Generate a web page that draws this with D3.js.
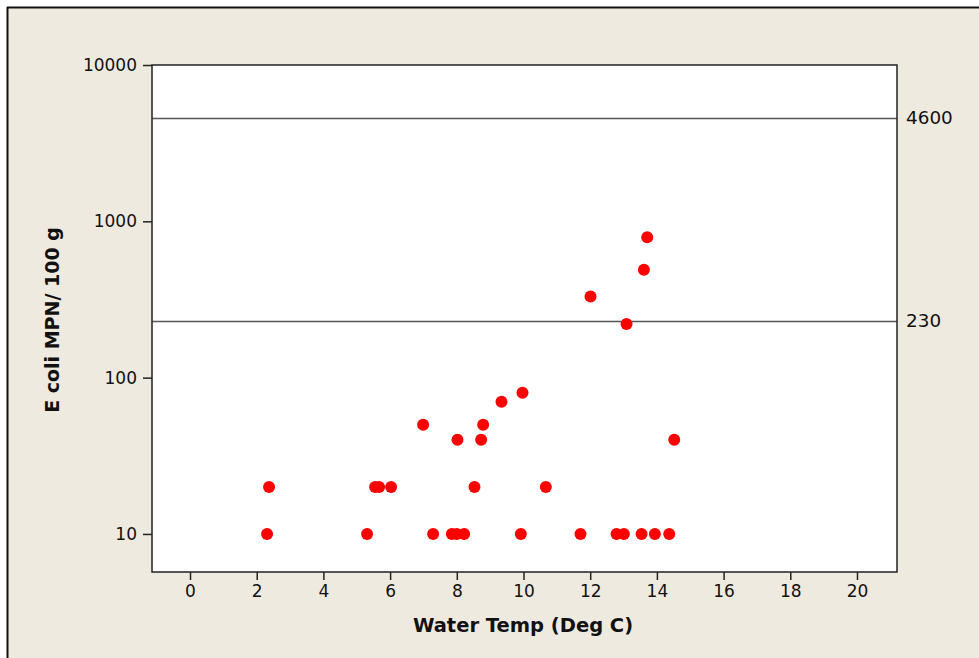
<!DOCTYPE html>
<html>
<head>
<meta charset="utf-8">
<script src="https://cdn.jsdelivr.net/npm/d3@7"></script>
<style>
  html, body { margin: 0; padding: 0; background: #ffffff; }
  svg { display: block; }
</style>
</head>
<body>
<svg id="chart" width="979" height="658"></svg>
<script>
// Water temperature (deg C) of each sample
const waterTemp = [
  2.31, 2.37, 5.31, 5.55, 5.67, 6.03, 6.99, 7.29,
  7.85, 8.0, 8.22, 8.02, 8.53, 8.73, 8.79, 9.34,
  9.92, 9.97, 10.67, 11.71, 12.01, 12.79, 13.01, 13.09,
  13.54, 13.61, 13.71, 13.94, 14.37, 14.52
];
// E. coli MPN per 100 g for each sample
const ecoli = [
  10, 20, 10, 20, 20, 20, 50, 10,
  10, 10, 10, 40, 20, 40, 50, 70,
  10, 80, 20, 10, 330, 10, 10, 220,
  10, 490, 790, 10, 10, 40
];
// Reference limits drawn as horizontal lines
const refLines = [4600, 230];
const xTicks = [0, 2, 4, 6, 8, 10, 12, 14, 16, 18, 20];
const yTicks = [10, 100, 1000, 10000];

const svg = d3.select("#chart");
const W = 979, H = 658;
const plot = { left: 152, top: 65, right: 897, bottom: 572 };

// Panel background and frame
svg.append("rect").attr("x", 0).attr("y", 0).attr("width", W).attr("height", H).attr("fill", "#ffffff");
svg.append("rect").attr("x", 8).attr("y", 8).attr("width", W - 8).attr("height", H - 8).attr("fill", "#efeae0");
svg.append("line").attr("x1", 7.5).attr("x2", 7.5).attr("y1", 7).attr("y2", H).attr("stroke", "#111").attr("stroke-width", 2);
svg.append("line").attr("x1", 7).attr("x2", W).attr("y1", 7.5).attr("y2", 7.5).attr("stroke", "#111").attr("stroke-width", 2);

const x = d3.scaleLinear().domain([-1.14, 21.2]).range([plot.left, plot.right]);
const y = d3.scaleLog().domain([5.71, 10000]).range([plot.bottom, plot.top]);

svg.append("rect")
  .attr("x", plot.left).attr("y", plot.top)
  .attr("width", plot.right - plot.left).attr("height", plot.bottom - plot.top)
  .attr("fill", "#ffffff");

const fontFam = "'DejaVu Sans', Verdana, sans-serif";

// Reference lines with their labels on the right
const refG = svg.append("g");
refG.selectAll("line").data(refLines).join("line")
  .attr("x1", plot.left).attr("x2", plot.right)
  .attr("y1", d => Math.round(y(d)) + 0.5).attr("y2", d => Math.round(y(d)) + 0.5)
  .attr("stroke", "#555").attr("stroke-width", 1.3);
refG.selectAll("text").data(refLines).join("text")
  .attr("x", 906).attr("y", d => y(d) + 6)
  .attr("font-family", fontFam).attr("font-size", 17.5).attr("fill", "#111")
  .attr("textLength", d => String(d).length * 11.7).attr("lengthAdjust", "spacingAndGlyphs")
  .text(d => d);

// Axes
const xAxis = svg.append("g").attr("transform", `translate(0,${plot.bottom})`)
  .call(d3.axisBottom(x).tickValues(xTicks).tickSize(8).tickPadding(5).tickFormat(d3.format("d")));
const yAxis = svg.append("g").attr("transform", `translate(${plot.left},0)`)
  .call(d3.axisLeft(y).tickValues(yTicks).tickSize(9).tickPadding(6).tickFormat(d3.format("d")));
[xAxis, yAxis].forEach(g => {
  g.select(".domain").remove();
  g.selectAll(".tick line").attr("stroke", "#222").attr("stroke-width", 1.5);
  g.selectAll(".tick text").attr("font-family", fontFam).attr("font-size", 17).attr("fill", "#111");
});

// Plot frame
svg.append("rect")
  .attr("x", plot.left).attr("y", plot.top)
  .attr("width", plot.right - plot.left).attr("height", plot.bottom - plot.top)
  .attr("fill", "none").attr("stroke", "#222").attr("stroke-width", 1.5);

// Data points
svg.append("g").selectAll("circle").data(waterTemp.map((t, i) => [t, ecoli[i]])).join("circle")
  .attr("cx", d => x(d[0])).attr("cy", d => y(d[1])).attr("r", 6)
  .attr("fill", "#ff0000");

// Axis titles
svg.append("text")
  .attr("x", 523).attr("y", 632)
  .attr("text-anchor", "middle")
  .attr("font-family", fontFam).attr("font-size", 19.5).attr("font-weight", "bold").attr("fill", "#111")
  .text("Water Temp (Deg C)");
svg.append("text")
  .attr("transform", `translate(59,${320}) rotate(-90)`)
  .attr("text-anchor", "middle")
  .attr("font-family", fontFam).attr("font-size", 19).attr("font-weight", "bold").attr("fill", "#111")
  .text("E coli MPN/ 100 g");
</script>
</body>
</html>
